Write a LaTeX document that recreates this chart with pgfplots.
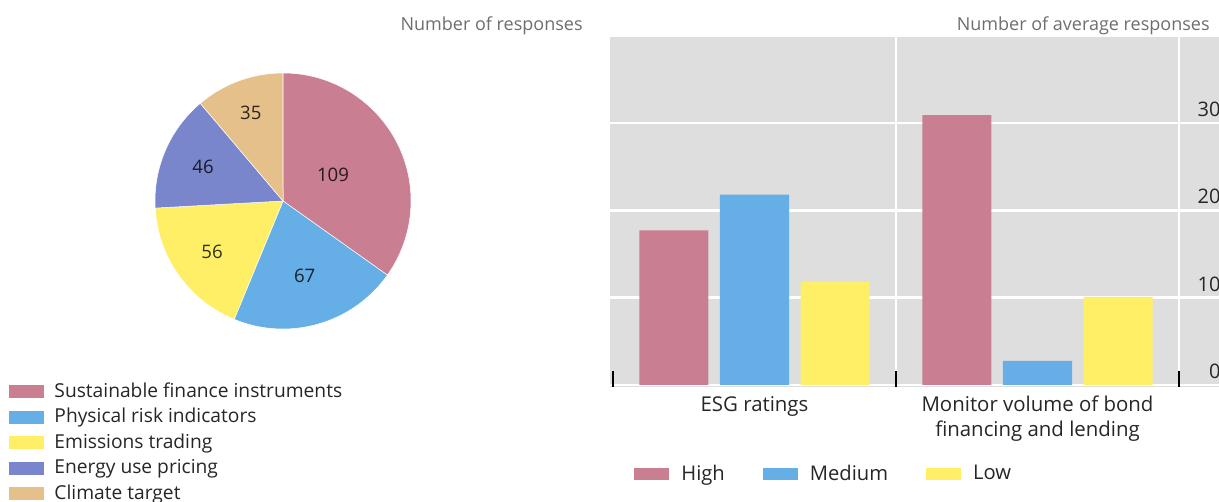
\documentclass[border=0pt]{standalone}
\usepackage{pgfplots}
\pgfplotsset{compat=1.18}
\usepackage{pgfplotstable}
\usepackage{fontspec}
\setmainfont{Open Sans}
\definecolor{cpink}{HTML}{C97E92}
\definecolor{cblue}{HTML}{66AEE6}
\definecolor{cyellow}{HTML}{FFEF66}
\definecolor{cpurple}{HTML}{7A86CC}
\definecolor{ctan}{HTML}{E5C08A}
\definecolor{cgray}{HTML}{DEDEDE}
\definecolor{ctitle}{HTML}{6E6E6E}
\definecolor{ctext}{HTML}{262626}

\pgfplotstableread[col sep=comma]{
value,lr
109,0.44
67,0.61
56,0.68
46,0.68
35,0.73
}\piedata

\pgfplotstableread{
x high medium low
0 17.7 21.8 11.8
1 30.9 2.75 10.1
}\bardata

\begin{document}
\begin{tikzpicture}
\useasboundingbox (0,0) rectangle (609.5pt,251pt);
% pie values
\pgfplotstablegetelem{0}{value}\of\piedata\let\vA\pgfplotsretval
\pgfplotstablegetelem{1}{value}\of\piedata\let\vB\pgfplotsretval
\pgfplotstablegetelem{2}{value}\of\piedata\let\vC\pgfplotsretval
\pgfplotstablegetelem{3}{value}\of\piedata\let\vD\pgfplotsretval
\pgfplotstablegetelem{4}{value}\of\piedata\let\vE\pgfplotsretval
\pgfplotstablegetelem{0}{lr}\of\piedata\let\lA\pgfplotsretval
\pgfplotstablegetelem{1}{lr}\of\piedata\let\lB\pgfplotsretval
\pgfplotstablegetelem{2}{lr}\of\piedata\let\lC\pgfplotsretval
\pgfplotstablegetelem{3}{lr}\of\piedata\let\lD\pgfplotsretval
\pgfplotstablegetelem{4}{lr}\of\piedata\let\lE\pgfplotsretval
\pgfmathsetmacro\tot{\vA+\vB+\vC+\vD+\vE}
\pgfmathsetmacro\aA{90}
\pgfmathsetmacro\aB{\aA-(\vA/\tot)*360}
\pgfmathsetmacro\aC{\aB-(\vB/\tot)*360}
\pgfmathsetmacro\aD{\aC-(\vC/\tot)*360}
\pgfmathsetmacro\aE{\aD-(\vD/\tot)*360}
\pgfmathsetmacro\aF{\aE-(\vE/\tot)*360}

\node[anchor=east, text=ctitle, font=\fontsize{9}{11}\selectfont, inner sep=0pt] at (291.5pt,238.3pt) {Number of responses};
\node[anchor=east, text=ctitle, font=\fontsize{9}{11}\selectfont, inner sep=0pt] at (605pt,238.3pt) {Number of average responses};

% ---------- pie ----------
\begin{axis}[
  at={(77.5pt,86.5pt)}, anchor=south west,
  width=128pt, height=128pt, scale only axis,
  xmin=-1, xmax=1, ymin=-1, ymax=1,
  hide axis, clip=false,
  legend image code/.code={\fill[#1, draw=none] (0pt,-3.25pt) rectangle (17.5pt,3.25pt);},
  legend cell align=left,
  legend style={at={(-0.57,-0.205)}, anchor=north west, draw=none, fill=none,
    inner sep=0pt, row sep=2.75pt, text=ctext,
    font=\fontsize{9.6}{11}\selectfont,
    nodes={inner sep=0pt, text height=7.6pt, text depth=2.4pt},
    /tikz/every odd column/.append style={column sep=5pt}},
]
\addlegendimage{fill=cpink, draw=none}\addlegendentry{Sustainable finance instruments}
\addlegendimage{fill=cblue, draw=none}\addlegendentry{Physical risk indicators}
\addlegendimage{fill=cyellow, draw=none}\addlegendentry{Emissions trading}
\addlegendimage{fill=cpurple, draw=none}\addlegendentry{Energy use pricing}
\addlegendimage{fill=ctan, draw=none}\addlegendentry{Climate target}
\fill[cpink, draw=white, line width=0.25pt] (axis cs:0,0) -- (axis cs:{cos(\aA)},{sin(\aA)}) arc[start angle=\aA, end angle=\aB, radius=64pt] -- cycle;
\fill[cblue, draw=white, line width=0.25pt] (axis cs:0,0) -- (axis cs:{cos(\aB)},{sin(\aB)}) arc[start angle=\aB, end angle=\aC, radius=64pt] -- cycle;
\fill[cyellow, draw=white, line width=0.25pt] (axis cs:0,0) -- (axis cs:{cos(\aC)},{sin(\aC)}) arc[start angle=\aC, end angle=\aD, radius=64pt] -- cycle;
\fill[cpurple, draw=white, line width=0.25pt] (axis cs:0,0) -- (axis cs:{cos(\aD)},{sin(\aD)}) arc[start angle=\aD, end angle=\aE, radius=64pt] -- cycle;
\fill[ctan, draw=white, line width=0.25pt] (axis cs:0,0) -- (axis cs:{cos(\aE)},{sin(\aE)}) arc[start angle=\aE, end angle=\aF, radius=64pt] -- cycle;
\node[font=\fontsize{9.3}{11}\selectfont, text=black!80!cpink] at (axis cs:{\lA*cos((\aA+\aB)/2)},{\lA*sin((\aA+\aB)/2)}) {\vA};
\node[font=\fontsize{9.3}{11}\selectfont, text=black!80!cblue] at (axis cs:{\lB*cos((\aB+\aC)/2)},{\lB*sin((\aB+\aC)/2)}) {\vB};
\node[font=\fontsize{9.3}{11}\selectfont, text=black!80!cyellow] at (axis cs:{\lC*cos((\aC+\aD)/2)},{\lC*sin((\aC+\aD)/2)}) {\vC};
\node[font=\fontsize{9.3}{11}\selectfont, text=black!80!cpurple] at (axis cs:{\lD*cos((\aD+\aE)/2)},{\lD*sin((\aD+\aE)/2)}) {\vD};
\node[font=\fontsize{9.3}{11}\selectfont, text=black!80!ctan] at (axis cs:{\lE*cos((\aE+\aF)/2)},{\lE*sin((\aE+\aF)/2)}) {\vE};
\end{axis}

% ---------- bars ----------
\begin{axis}[
  at={(305pt,57.5pt)}, anchor=south west,
  width=304.5pt, height=175pt, scale only axis,
  xmin=-0.5106, xmax=1.6413, ymin=-0.23, ymax=39.85,
  axis background/.style={fill=cgray},
  axis line style={draw=none},
  xtick={-0.5,0.5,1.5}, xticklabels={},
  xtick pos=bottom,
  tick align=inside, major tick length=8pt,
  xtick style={black, line width=0.6pt},
  minor xtick={0.5,1.5},
  xminorgrids, minor grid style={white, line width=1.3pt}, minor tick length=0pt,
  extra x ticks={0,1},
  extra x tick labels={ESG ratings, {Monitor volume of bond\\financing and lending}},
  extra x tick style={major tick length=0pt, xticklabel style={align=center, anchor=north, text=ctext, font=\fontsize{10.2}{12.5}\selectfont, yshift=-1pt}},
  ytick={0,10,20,30},
  ymajorgrids, major grid style={white, line width=1.3pt},
  ytick style={draw=none},
  yticklabel pos=right,
  yticklabel style={anchor=south east, inner sep=0pt, yshift=3pt, xshift=1pt, text=ctext, font=\fontsize{10}{12}\selectfont},
  /pgf/number format/assume math mode=true,
  legend image code/.code={\fill[#1, draw=none] (0pt,-3pt) rectangle (17.5pt,3pt);},
  legend columns=3,
  legend style={at={(0.0394,-0.2485)}, anchor=west, draw=none, fill=none,
    inner sep=0pt, text=ctext, font=\fontsize{10.1}{12}\selectfont,
    nodes={inner sep=0pt},
    /tikz/every odd column/.append style={column sep=6pt},
    /tikz/every even column/.append style={column sep=19pt}},
]
\addplot[ybar, bar width=0.244, bar shift=-0.285, fill=cpink, draw=none] table[x=x, y=high] {\bardata};
\addlegendentry{High}
\addplot[ybar, bar width=0.244, bar shift=0, fill=cblue, draw=none] table[x=x, y=medium] {\bardata};
\addlegendentry{Medium}
\addplot[ybar, bar width=0.244, bar shift=0.285, fill=cyellow, draw=none] table[x=x, y=low] {\bardata};
\addlegendentry{Low}
\end{axis}
\end{tikzpicture}
\end{document}
